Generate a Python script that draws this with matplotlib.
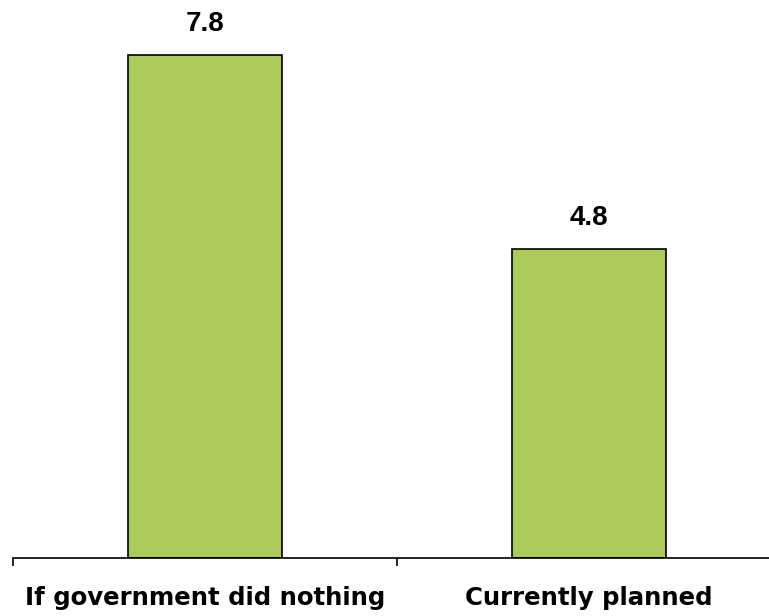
import matplotlib.pyplot as plt

categories = ['If government did nothing', 'Currently planned']
values = [7.8, 4.8]
labels = ['7.8', '4.8']

plt.rcParams['font.family'] = ['Liberation Sans', 'DejaVu Sans']

fig = plt.figure(figsize=(7.69, 6.16), dpi=100)
ax = fig.add_axes([13 / 769, 58 / 616, 768 / 769, 558 / 616])

x = range(len(categories))
ax.bar(x, values, width=0.4, color='#adcb5b', edgecolor='black', linewidth=1.2)
for xi, v, lab in zip(x, values, labels):
    ax.annotate(lab, (xi, v), xytext=(0, 13), textcoords='offset points',
                ha='center', va='bottom', fontsize=20, fontweight='bold')

ax.set_xlim(-0.5, 1.5)
ax.set_ylim(0, 8.66)
ax.set_xticks([-0.5, 0.5, 1.5])
ax.set_xticklabels([])
ax.set_xticks(list(x), minor=True)
ax.set_xticklabels(categories, minor=True, fontsize=17.6, fontweight='bold',
                   family='DejaVu Sans')
ax.tick_params(axis='x', which='major', direction='out', length=6, width=1.2)
ax.tick_params(axis='x', which='minor', length=0, pad=20)
ax.set_yticks([])
for s in ['top', 'right', 'left']:
    ax.spines[s].set_visible(False)
ax.spines['bottom'].set_linewidth(1.2)

fig.savefig('out.png', dpi=100)
